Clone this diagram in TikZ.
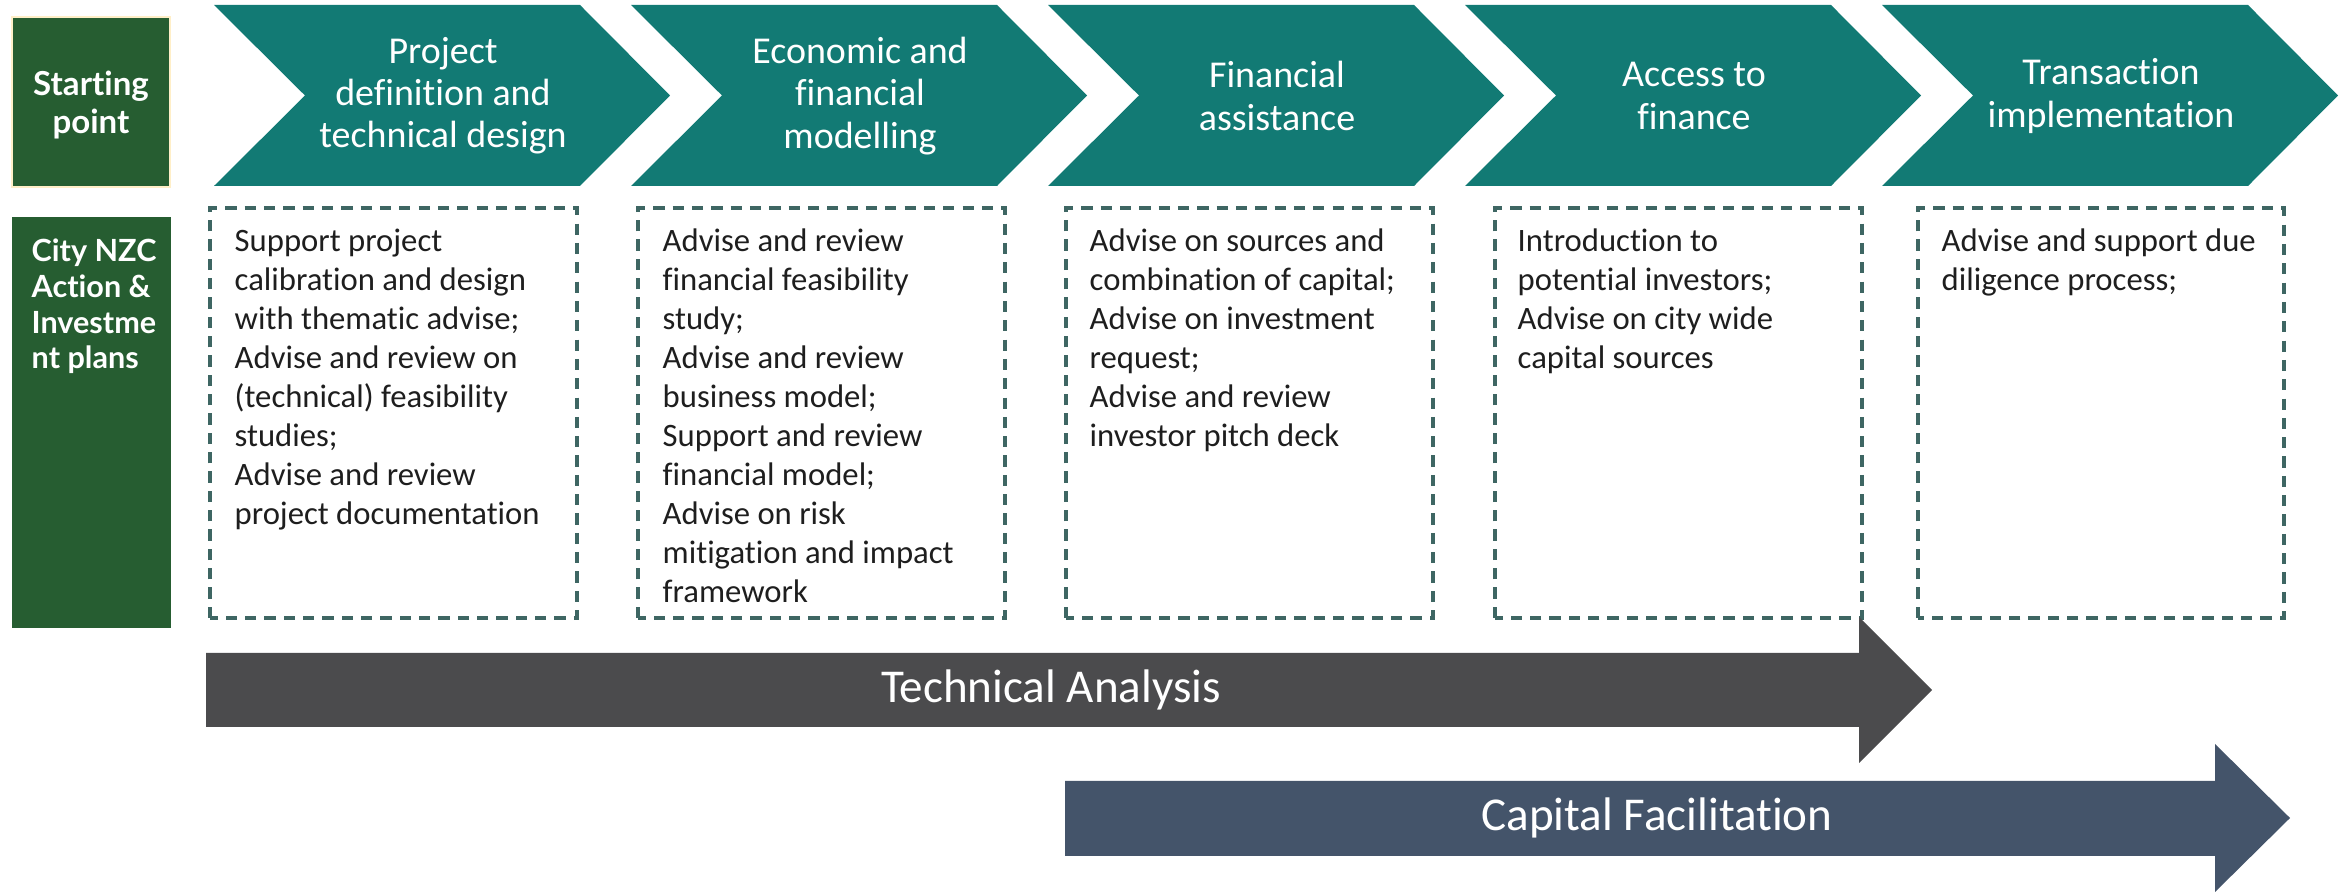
\documentclass[tikz,border=0pt]{standalone}
\usepackage{fontspec}
\setmainfont{Carlito}[RawFeature={-liga;-dlig}]
\newfontfamily\sidefont{Lato}[RawFeature={-liga;-dlig}]

\definecolor{chevteal}{HTML}{127A74}
\definecolor{sidegreen}{HTML}{265D31}
\definecolor{sideedge}{HTML}{FFEFC8}
\definecolor{dashgray}{HTML}{3E6663}
\definecolor{bodytext}{HTML}{1E1E1E}
\definecolor{techgray}{HTML}{4B4B4D}
\definecolor{capblue}{HTML}{44546A}

\begin{document}
\begin{tikzpicture}[
  chevron/.style={fill=chevteal},
  chevtext/.style={text=white, align=center, font=\fontsize{10.8}{12}\selectfont},
  dashbox/.style={draw=dashgray, line width=0.9pt, dash pattern=on 3.2pt off 2.3pt},
  boxtext/.style={anchor=north west, inner sep=0pt, align=left, text=bodytext, font=\fontsize{9.3}{11.1}\selectfont},
  sidebox/.style={fill=sidegreen},
  sidetext/.style={text=white, font=\sidefont\bfseries\fontsize{8.7}{10.2}\selectfont},
  bandtext/.style={text=white, font=\fontsize{13.4}{16}\selectfont}
]

\useasboundingbox (0,0) rectangle (23.44,8.92);

% Define chevron corners
\coordinate (P1) at (2.14,8.87);
\coordinate (P2) at (6.31,8.87);
\coordinate (P3) at (10.48,8.87);
\coordinate (P4) at (14.65,8.87);
\coordinate (P5) at (18.82,8.87);

% Draw chevrons
\fill[chevron] (P1) -- ++(3.66,0) -- ++(0.90,-0.905) -- ++(-0.90,-0.905) -- ++(-3.66,0) -- ++(0.91,0.905) -- cycle;
\fill[chevron] (P2) -- ++(3.66,0) -- ++(0.90,-0.905) -- ++(-0.90,-0.905) -- ++(-3.66,0) -- ++(0.91,0.905) -- cycle;
\fill[chevron] (P3) -- ++(3.66,0) -- ++(0.90,-0.905) -- ++(-0.90,-0.905) -- ++(-3.66,0) -- ++(0.91,0.905) -- cycle;
\fill[chevron] (P4) -- ++(3.66,0) -- ++(0.90,-0.905) -- ++(-0.90,-0.905) -- ++(-3.66,0) -- ++(0.91,0.905) -- cycle;
\fill[chevron] (P5) -- ++(3.66,0) -- ++(0.90,-0.905) -- ++(-0.90,-0.905) -- ++(-3.66,0) -- ++(0.91,0.905) -- cycle;

% Chevron labels
\node[chevtext] (step1) at (4.43,7.96) {Project\\definition and\\technical design};
\node[chevtext] (step2) at (8.60,7.96) {Economic and\\financial\\modelling};
\node[chevtext] (step3) at (12.77,7.96) {Financial\\assistance};
\node[chevtext] (step4) at (16.94,7.96) {Access to\\finance};
\node[chevtext] (step5) at (21.11,7.96) {Transaction\\implementation};

% Left column
\draw[sidebox, draw=sideedge, line width=0.5pt] (0.12,7.05) rectangle (1.70,8.75);
\node[sidetext, align=center, font=\sidefont\bfseries\fontsize{9.4}{10.8}\selectfont] (start) at (0.91,7.87) {Starting\\point};
\fill[sidebox] (0.12,2.64) rectangle (1.71,6.75);
\node[sidetext, align=left, anchor=north west, inner sep=0pt] (city) at (0.31,6.54) {City NZC\\Action \&\\Investme\\nt plans};

% Dashed task boxes
\draw[dashbox] (2.10,2.74) rectangle (5.77,6.84);
\draw[dashbox] (6.38,2.74) rectangle (10.05,6.84);
\draw[dashbox] (10.66,2.74) rectangle (14.33,6.84);
\draw[dashbox] (14.95,2.74) rectangle (18.62,6.84);
\draw[dashbox] (19.18,2.74) rectangle (22.84,6.84);

% Task texts
\node[boxtext] (task1) at (2.34,6.64) {Support project\\calibration and design\\with thematic advise;\\Advise and review on\\(technical) feasibility\\studies;\\Advise and review\\project documentation};
\node[boxtext] (task2) at (6.62,6.64) {Advise and review\\financial feasibility\\study;\\Advise and review\\business model;\\Support and review\\financial model;\\Advise on risk\\mitigation and impact\\framework};
\node[boxtext] (task3) at (10.89,6.64) {Advise on sources and\\combination of capital;\\Advise on investment\\request;\\Advise and review\\investor pitch deck};
\node[boxtext] (task4) at (15.17,6.64) {Introduction to\\potential investors;\\Advise on city wide\\capital sources};
\node[boxtext] (task5) at (19.41,6.64) {Advise and support due\\diligence process;};

% Technical analysis arrow
\fill[techgray] (2.06,2.39) -- (18.59,2.39) -- (18.59,2.75) -- (19.32,2.02) -- (18.59,1.29) -- (18.59,1.65) -- (2.06,1.65) -- cycle;
\node[bandtext] (tech) at (10.51,2.02) {Technical Analysis};

% Capital facilitation arrow
\fill[capblue] (10.65,1.11) -- (22.15,1.11) -- (22.15,1.48) -- (22.90,0.74) -- (22.15,0.00) -- (22.15,0.36) -- (10.65,0.36) -- cycle;
\node[bandtext] (capital) at (16.57,0.74) {Capital Facilitation};

\end{tikzpicture}
\end{document}
